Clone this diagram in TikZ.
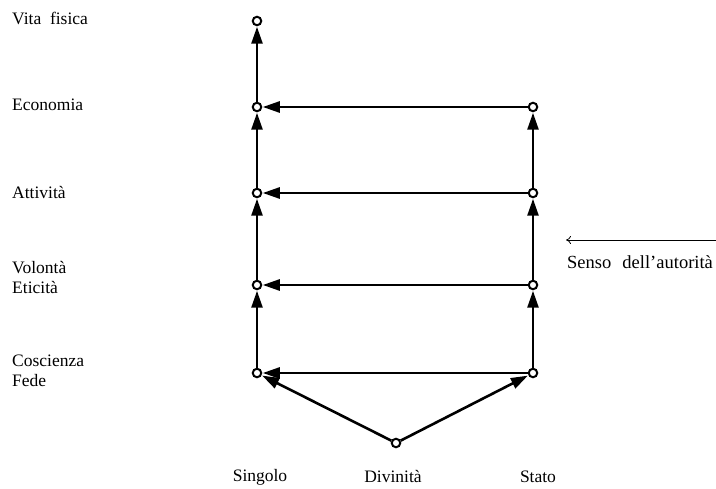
\documentclass[tikz,border=0pt]{standalone}
\usepackage{fontspec}
\setmainfont{Liberation Serif}
\usetikzlibrary{arrows.meta, positioning}

\begin{document}
\begin{tikzpicture}[
    x=1pt, y=-1pt,
    every node/.style={font=\fontsize{17.5}{20}\selectfont, inner sep=0pt},
    lab/.style={anchor=west, align=left},
    dot/.style={circle, draw, line width=2pt, minimum size=8.5pt, inner sep=0pt},
    flow/.style={line width=2.6pt, -{Triangle[length=17pt, width=11pt]}, shorten >=0.5pt},
]
\useasboundingbox (0,0) rectangle (716,489);

% levels, left column (Singolo) and right column (Stato)
\node[dot] (s1) at (257, 21) {};
\foreach \y/\i in {107/2, 193/3, 285/4, 373/5}{
    \node[dot] (s\i) at (257, \y) {};
    \node[dot] (t\i) at (533, \y) {};
}
\node[dot] (d) at (396, 443) {};

% level labels
\node[lab] (l1) at (12, 18) {Vita\ \ fisica};
\node[lab] (l2) at (12, 105) {Economia};
\node[lab] (l3) at (12, 193) {Attività};
\node[lab] (l4) at (12, 278) {Volontà\\Eticità};
\node[lab] (l5) at (12, 371) {Coscienza\\Fede};

\node (cs) at (260, 477) {Singolo};
\node (cd) at (393, 477) {Divinità};
\node (ct) at (538, 477) {Stato};

% arrows
\foreach \a/\b in {2/1, 3/2, 4/3, 5/4}{
    \draw[flow] (s\a) -- (s\b);
}
\foreach \a/\b in {3/2, 4/3, 5/4}{
    \draw[flow] (t\a) -- (t\b);
}
\foreach \i in {2, 3, 4, 5}{
    \draw[flow] (t\i) -- (s\i);
}
\draw[flow] (d) -- (s5);
\draw[flow] (d) -- (t5);

% direction of authority
\coordinate (a0) at (716, 240);
\coordinate (a1) at (566, 240);
\draw[line width=0.8pt, -{To[length=5pt, width=8pt]}] (a0) -- (a1);
\node[lab] (sa) at (567, 262) {\fontsize{18.5}{20}\selectfont Senso\hspace{0.6em}dell’autorità};

\end{tikzpicture}
\end{document}
